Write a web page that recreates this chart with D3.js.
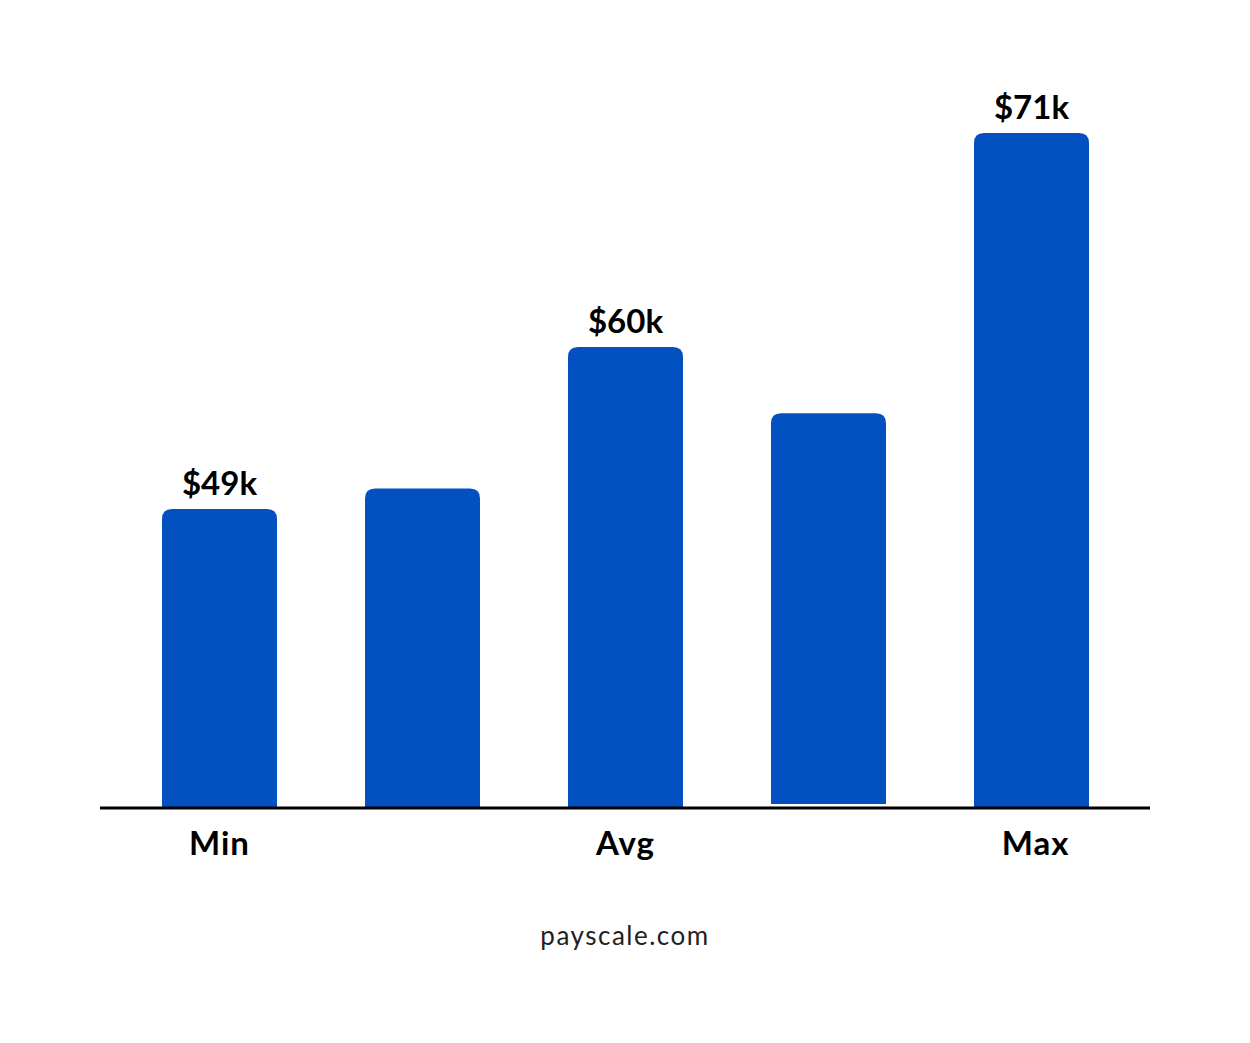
<!DOCTYPE html><html><head><meta charset="utf-8"><script src="https://cdn.jsdelivr.net/npm/d3@7"></script>
<style>body{margin:0;background:#fff}</style></head><body><svg id="c" width="1250" height="1043"></svg>
<script>
const categories=["Min","","Avg","","Max"];
const values=[49,50.4,60,55.5,71];
const valueLabels=["$49k","","$60k","","$71k"];
const svg=d3.select("#c");
const base=808;
const x=d3.scaleBand().domain(d3.range(5)).range([118,1133]).paddingInner(0.4335).paddingOuter(0.21675);
const h=d3.scaleLinear().domain([0,49,60,71]).range([0,299,461,675]);
const r=10;
values.forEach((v,i)=>{
  const x0=x(i),w=x.bandwidth(),top=base-h(v),bot=base-(i===3?4:0);
  svg.append("path").attr("fill","#0351C1")
    .attr("d",`M${x0},${bot}V${top+r}Q${x0},${top} ${x0+r},${top}H${x0+w-r}Q${x0+w},${top} ${x0+w},${top+r}V${bot}Z`);
  if(valueLabels[i])svg.append("text").attr("x",x0+w/2).attr("y",top-14).attr("text-anchor","middle")
    .attr("font-family","Lato").attr("font-weight","bold").attr("font-size",33).text(valueLabels[i]);
  if(categories[i])svg.append("text").attr("x",x0+w/2+(i===4?4:0)).attr("y",855).attr("text-anchor","middle")
    .attr("font-family","Lato").attr("font-weight","bold").attr("font-size",33).attr("letter-spacing",1).text(categories[i]);
});
svg.append("line").attr("x1",100).attr("x2",1150).attr("y1",base).attr("y2",base).attr("stroke","#000").attr("stroke-width",3);
svg.append("text").attr("x",625).attr("y",945).attr("text-anchor","middle").attr("font-family","Lato").attr("font-size",26).attr("fill","#222").attr("letter-spacing",1.5).text("payscale.com");
</script></body></html>
